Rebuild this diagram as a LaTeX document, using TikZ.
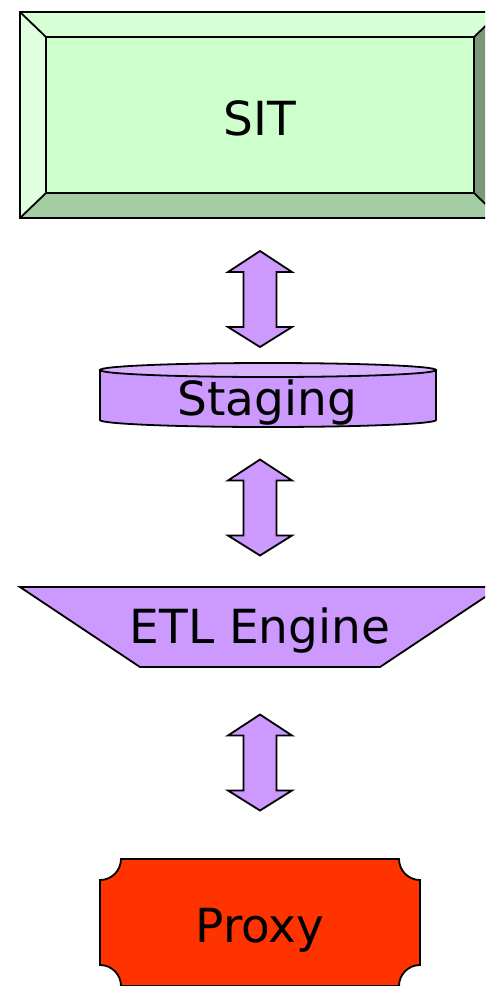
\documentclass[tikz,border=0pt]{standalone}
\usepackage{fontspec}
\setmainfont{DejaVu Sans}
\definecolor{sitface}{HTML}{CCFFCC}
\definecolor{sittop}{HTML}{D6FFD6}
\definecolor{sitleft}{HTML}{E0FFE0}
\definecolor{sitbot}{HTML}{A3CCA3}
\definecolor{sitright}{HTML}{7A997A}
\definecolor{lav}{HTML}{CC99FF}
\definecolor{lavtop}{HTML}{D9B3FF}
\definecolor{proxyred}{HTML}{FF3300}
\tikzset{
  outl/.style={draw=black, line width=1.8pt, line join=miter},
  lbl/.style={inner sep=0pt, anchor=base, font=\fontsize{47}{50}\selectfont},
  dbl/.pic={\filldraw[outl, fill=lav] (0,-48) -- (32,-27) -- (16.5,-27) -- (16.5,28) -- (32,28) -- (0,48) -- (-32,28) -- (-16.5,28) -- (-16.5,-27) -- (-32,-27) -- cycle;}
}
\begin{document}
\begin{tikzpicture}[x=1pt, y=-1pt]
\useasboundingbox (0,0) rectangle (485,986);
\clip (0,0) rectangle (485,986);
% SIT bevel box
\fill[sitface] (46,37) rectangle (474,193);
\fill[sittop] (20,12) -- (500,12) -- (474,37) -- (46,37) -- cycle;
\fill[sitleft] (20,12) -- (46,37) -- (46,193) -- (20,218) -- cycle;
\fill[sitbot] (20,218) -- (46,193) -- (474,193) -- (500,218) -- cycle;
\fill[sitright] (500,12) -- (474,37) -- (474,193) -- (500,218) -- cycle;
\draw[outl] (20,12) rectangle (500,218);
\draw[outl] (46,37) rectangle (474,193);
\draw[outl] (20,12) -- (46,37) (500,12) -- (474,37) (20,218) -- (46,193) (500,218) -- (474,193);
\node[lbl] (sit) at (260,135) {SIT};
% arrow 1
\pic at (260,299) {dbl};
% Staging cylinder
\filldraw[outl, fill=lav] (100,370) -- (100,420) arc[start angle=180, end angle=0, x radius=168, y radius=7] -- (436,370) -- cycle;
\filldraw[outl, fill=lavtop] (268,370) ellipse[x radius=168, y radius=7];
\node[lbl] (staging) at (267,415) {Staging};
% arrow 2
\pic at (260,507.5) {dbl};
% ETL engine
\filldraw[outl, fill=lav] (20,587) -- (500,587) -- (380,667) -- (140,667) -- cycle;
\node[lbl] (etl) at (260,643) {ETL Engine};
% arrow 3
\pic at (260,762.5) {dbl};
% Proxy
\filldraw[outl, fill=proxyred] (121,859) -- (399,859) arc[start angle=180, end angle=90, radius=21]
  -- (420,965) arc[start angle=270, end angle=180, radius=21]
  -- (121,986) arc[start angle=360, end angle=270, radius=21]
  -- (100,880) arc[start angle=90, end angle=0, radius=21] -- cycle;
\node[lbl] (proxy) at (260,942) {Proxy};
\end{tikzpicture}
\end{document}
